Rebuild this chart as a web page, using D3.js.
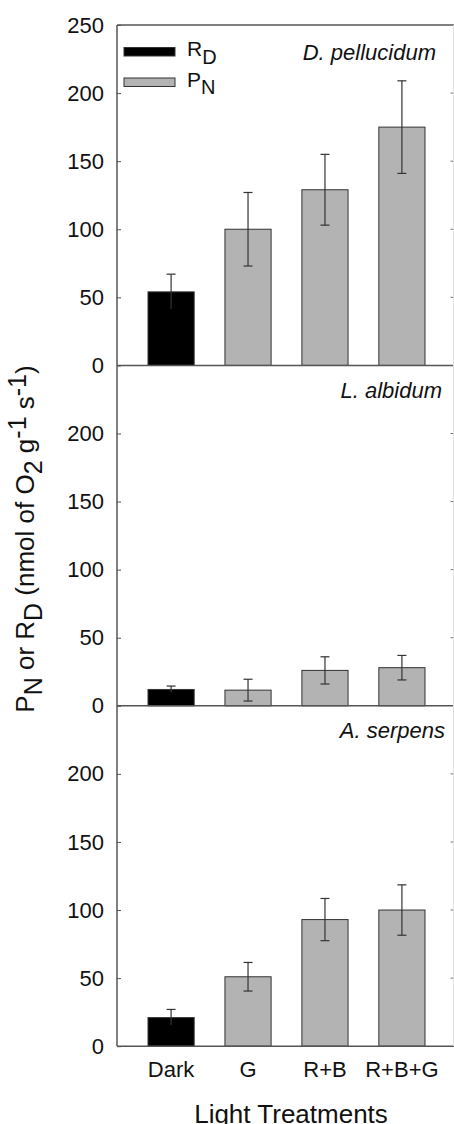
<!DOCTYPE html>
<html>
<head>
<meta charset="utf-8">
<script src="https://cdn.jsdelivr.net/npm/d3@7"></script>
<style>
  body { margin: 0; background: #fff; }
  text { font-family: "Liberation Sans", Arial, sans-serif; fill: #111; }
</style>
</head>
<body>
<div id="chart"></div>
<script>
var categories = ["Dark", "G", "R+B", "R+B+G"];
var species = ["D. pellucidum", "L. albidum", "A. serpens"];

// means and error (+/-) per species
var pellucidum = [54, 100, 129, 175];
var pellucidumErr = [13, 27, 26, 34];
var albidum = [12, 11.5, 26, 28];
var albidumErr = [2.5, 8, 10, 9];
var serpens = [21, 51, 93, 100];
var serpensErr = [6, 10.5, 15.5, 18.5];

var firstTicks = [0, 50, 100, 150, 200, 250];
var otherTicks = [0, 50, 100, 150, 200];

var means = [pellucidum, albidum, serpens];
var errs = [pellucidumErr, albidumErr, serpensErr];

var W = 454, H = 1124;
var left = 117, right = 453.5, topY = 25, panelH = 340.4;
var labelX = [436, 442, 445];

var svg = d3.select("#chart").append("svg")
  .attr("width", W)
  .attr("height", H);

var x = d3.scaleBand().domain(categories)
  .range([118, 455])
  .paddingInner(0.4)
  .paddingOuter(0.39);

species.forEach(function (sp, p) {
  var y0 = topY + p * panelH;
  var y = d3.scaleLinear().domain([0, 250]).range([y0 + panelH, y0]);
  var g = svg.append("g");
  var ticks = p === 0 ? firstTicks : otherTicks;

  // left axis
  var yAxis = d3.axisLeft(y).tickValues(ticks).tickSize(-4).tickPadding(13).tickFormat(d3.format("d"));
  var ax = g.append("g")
    .attr("transform", "translate(" + left + ",0)")
    .call(yAxis);
  ax.select(".domain").remove();
  ax.selectAll("line").attr("stroke", "#555");
  ax.selectAll("text").style("font-size", "22px").attr("fill", "#111");

  // right ticks
  g.selectAll(".rt").data(ticks.filter(function (t) { return t > 0 && t < 250; }))
    .enter().append("line")
    .attr("x1", right - 3).attr("x2", right)
    .attr("y1", function (d) { return y(d); })
    .attr("y2", function (d) { return y(d); })
    .attr("stroke", "#777");

  // bars
  g.selectAll(".bar").data(means[p])
    .enter().append("rect")
    .attr("x", function (d, i) { return x(categories[i]); })
    .attr("y", function (d) { return y(d); })
    .attr("width", x.bandwidth())
    .attr("height", function (d) { return y(0) - y(d); })
    .attr("fill", function (d, i) { return i === 0 ? "#000" : "#b3b3b3"; })
    .attr("stroke", "#333")
    .attr("stroke-width", 1);

  // error bars
  var cx = function (i) { return x(categories[i]) + x.bandwidth() / 2; };
  var eb = g.selectAll(".err").data(means[p])
    .enter().append("g");
  eb.append("line")
    .attr("x1", function (d, i) { return cx(i); })
    .attr("x2", function (d, i) { return cx(i); })
    .attr("y1", function (d, i) { return y(d + errs[p][i]); })
    .attr("y2", function (d, i) { return y(Math.max(0, d - errs[p][i])); })
    .attr("stroke", "#333").attr("stroke-width", 1.2);
  eb.append("line")
    .attr("x1", function (d, i) { return cx(i) - 4.5; })
    .attr("x2", function (d, i) { return cx(i) + 4.5; })
    .attr("y1", function (d, i) { return y(d + errs[p][i]); })
    .attr("y2", function (d, i) { return y(d + errs[p][i]); })
    .attr("stroke", "#333").attr("stroke-width", 1.2);
  eb.append("line")
    .attr("x1", function (d, i) { return cx(i) - 4.5; })
    .attr("x2", function (d, i) { return cx(i) + 4.5; })
    .attr("y1", function (d, i) { return y(d - errs[p][i]); })
    .attr("y2", function (d, i) { return y(d - errs[p][i]); })
    .attr("stroke", function (d, i) { return i === 0 ? "#000" : "#333"; })
    .attr("stroke-width", 1.2);

  // baseline of the panel
  g.append("line")
    .attr("x1", left).attr("x2", W)
    .attr("y1", y(0)).attr("y2", y(0))
    .attr("stroke", "#555").attr("stroke-width", 1.5);

  // species name
  g.append("text")
    .attr("x", labelX[p])
    .attr("y", y0 + (p === 0 ? 35 : 32.5))
    .attr("text-anchor", "end")
    .style("font-size", "22px")
    .style("font-style", "italic")
    .text(sp);
});

// frame: left axis, top, right edge
svg.append("line").attr("x1", left).attr("x2", left)
  .attr("y1", topY).attr("y2", topY + 3 * panelH)
  .attr("stroke", "#555").attr("stroke-width", 1.5);
svg.append("line").attr("x1", left).attr("x2", W)
  .attr("y1", topY).attr("y2", topY)
  .attr("stroke", "#555").attr("stroke-width", 1.5);
svg.append("line").attr("x1", right).attr("x2", right)
  .attr("y1", topY).attr("y2", topY + 3 * panelH)
  .attr("stroke", "#ddd").attr("stroke-width", 1);

// x tick labels
svg.append("g").selectAll("text").data(categories)
  .enter().append("text")
  .attr("x", function (d) { return x(d) + x.bandwidth() / 2; })
  .attr("y", 1077)
  .attr("text-anchor", "middle")
  .style("font-size", "22px")
  .text(function (d) { return d; });

// x title
svg.append("text")
  .attr("x", 291).attr("y", 1123)
  .attr("text-anchor", "middle")
  .style("font-size", "26px")
  .text("Light Treatments");

// y title
var yt = svg.append("text")
  .attr("transform", "translate(34,539)rotate(-90)")
  .attr("text-anchor", "middle")
  .style("font-size", "26px");
yt.append("tspan").text("P");
yt.append("tspan").attr("dy", 8).style("font-size", "25px").text("N");
yt.append("tspan").attr("dy", -8).text(" or R");
yt.append("tspan").attr("dy", 8).style("font-size", "25px").text("D");
yt.append("tspan").attr("dy", -8).text(" (nmol of O");
yt.append("tspan").attr("dy", 8).style("font-size", "25px").text("2");
yt.append("tspan").attr("dy", -8).text(" g");
yt.append("tspan").attr("dy", -8).style("font-size", "25px").text("-1");
yt.append("tspan").attr("dy", 8).text(" s");
yt.append("tspan").attr("dy", -8).style("font-size", "25px").text("-1");
yt.append("tspan").attr("dy", 8).text(")");

// legend
var legendKeys = [{ name: "R", sub: "D", fill: "#000" }, { name: "P", sub: "N", fill: "#b3b3b3" }];
var lg = svg.append("g").selectAll("g").data(legendKeys)
  .enter().append("g")
  .attr("transform", function (d, i) { return "translate(124," + (47.5 + i * 30.5) + ")"; });
lg.append("rect")
  .attr("width", 51).attr("height", 8.5)
  .attr("fill", function (d) { return d.fill; })
  .attr("stroke", "#333");
var lt = lg.append("text")
  .attr("x", 63).attr("y", 8.5)
  .style("font-size", "21px");
lt.append("tspan").text(function (d) { return d.name; });
lt.append("tspan").attr("dy", 7.5).style("font-size", "20px").text(function (d) { return d.sub; });
</script>
</body>
</html>
